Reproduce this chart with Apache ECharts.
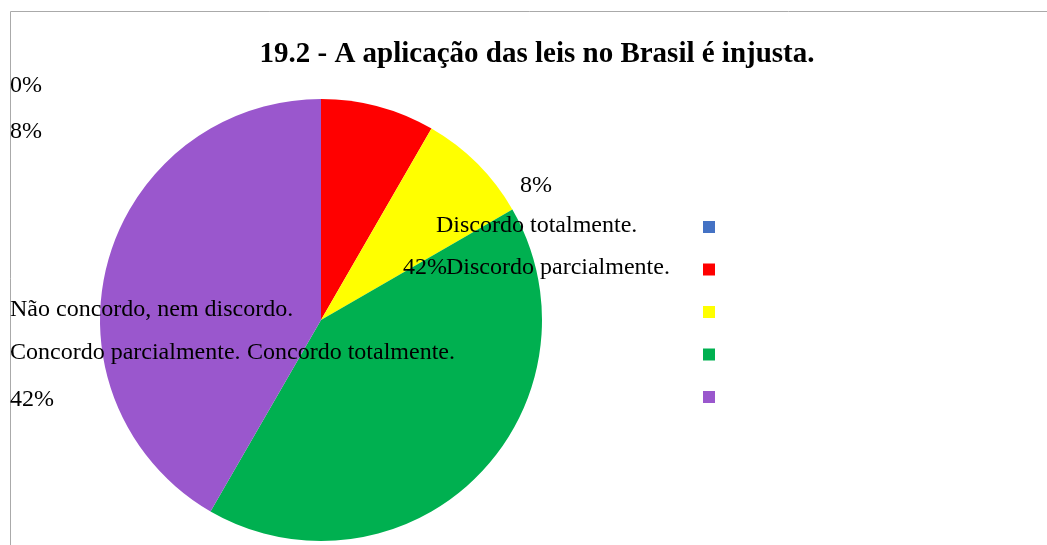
<!DOCTYPE html>
<html>
<head>
<meta charset="utf-8">
<script src="https://cdn.jsdelivr.net/npm/echarts@6/dist/echarts.min.js"></script>
<style>
  html, body { margin: 0; padding: 0; background: #fff; }
  #chart { width: 1047px; height: 545px; }
</style>
</head>
<body>
<div id="chart"></div>
<script>
var categories = ['Discordo totalmente.', 'Discordo parcialmente.', 'Não concordo, nem discordo.', 'Concordo parcialmente.', 'Concordo totalmente.'];
var counts = [0, 1, 1, 5, 5];
var colors = ['#4472C4', '#FF0000', '#FFFF00', '#00B050', '#9A57CD'];

// where the (misplaced) labels ended up in the original picture
var pctPos = [[10, 86], [10, 132], [520, 186], [403, 268], [10, 400]];
var namePos = [[436, 226], [446, 268], [10, 310], [10, 353], [247, 353]];

var total = counts.reduce(function (a, b) { return a + b; }, 0);
var font = '24px "Liberation Serif", "Times New Roman", serif';

var texts = [];
for (var i = 0; i < categories.length; i++) {
  texts.push({
    type: 'text', x: pctPos[i][0], y: pctPos[i][1], z: 10,
    style: { text: Math.round(counts[i] / total * 100) + '%', font: font, fill: '#000', verticalAlign: 'middle' }
  });
  texts.push({
    type: 'text', x: namePos[i][0], y: namePos[i][1], z: 10,
    style: { text: categories[i], font: font, fill: '#000', verticalAlign: 'middle' }
  });
}

var chart = echarts.init(document.getElementById('chart'));
chart.setOption({
  animation: false,
  color: colors,
  title: {
    text: '19.2 - A aplicação das leis no Brasil é injusta.',
    left: 532, top: 35, textAlign: 'center',
    textStyle: { fontFamily: '"Liberation Serif", "Times New Roman", serif', fontSize: 29, fontWeight: 'bold', color: '#000' }
  },
  legend: {
    orient: 'vertical',
    left: 698, top: 216,
    itemWidth: 12, itemHeight: 12, itemGap: 30.5,
    icon: 'rect',
    selectedMode: false,
    formatter: function () { return ''; },
    textStyle: { fontSize: 1, lineHeight: 12, padding: 0 },
    data: categories
  },
  graphic: [{
    type: 'rect', z: -1,
    shape: { x: 10.5, y: 11.5, width: 1100, height: 600 },
    style: { fill: 'none', stroke: '#aaaaaa', lineWidth: 1 }
  }].concat(texts),
  series: [{
    type: 'pie',
    center: [321, 320],
    radius: 221,
    startAngle: 90,
    clockwise: true,
    label: { show: false },
    labelLine: { show: false },
    itemStyle: { borderWidth: 0 },
    emphasis: { disabled: true },
    data: categories.map(function (c, i) { return { name: c, value: counts[i] }; })
  }]
});
</script>
</body>
</html>
